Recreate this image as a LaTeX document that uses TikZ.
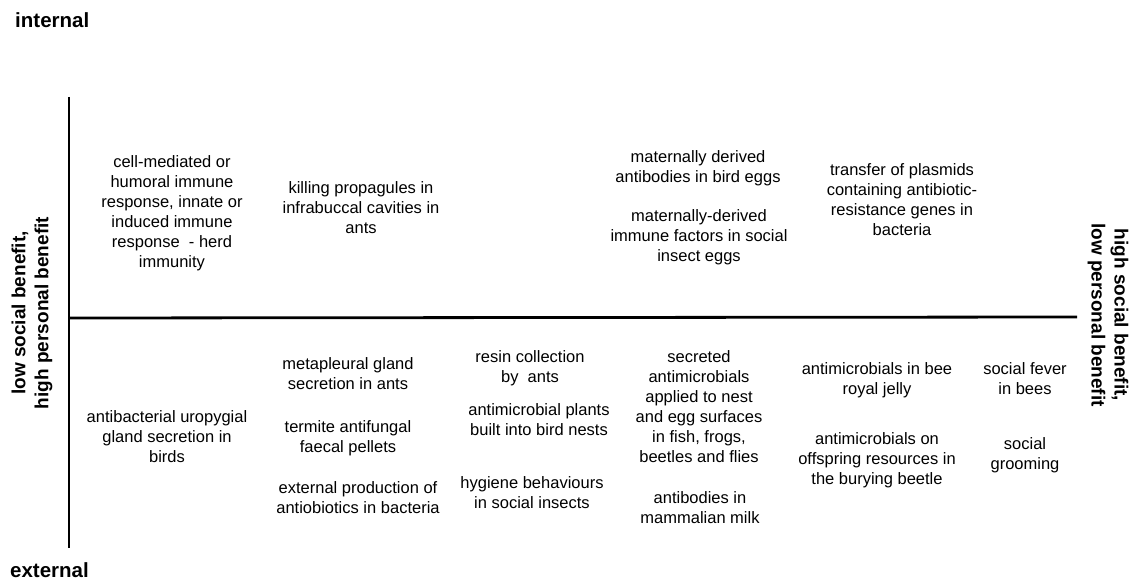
\documentclass[tikz,border=0pt]{standalone}
\usepackage{fontspec}
\setmainfont{Liberation Sans}
\begin{document}
\begin{tikzpicture}[x=1pt, y=-1pt,
				    item/.style={inner sep=0pt, align=center, text=black,
				    			  font=\fontsize{16.5}{20}\selectfont},
				    corner/.style={inner sep=0pt, anchor=west, text=black,
				    			  font=\bfseries\fontsize{20.5}{24}\selectfont},
				    side/.style={inner sep=0pt, align=center, text=black,
				    			  font=\bfseries\fontsize{19}{23}\selectfont},
				    axis/.style={line width=2.8pt}]
	\useasboundingbox (0, 0) rectangle (1129, 580);
	\coordinate (top) at (69, 97);
	\coordinate (bot) at (69, 548);
	\coordinate (left) at (69, 318);
	\coordinate (right) at (1077, 317);
	
	\node[corner] (int) at (15, 20) {internal};
	\node[corner] (ext) at (10, 570) {external};
	\node[side, rotate=90] (low) at (32, 313) {low social benefit,\\high personal benefit};
	\node[side, rotate=-90] (high) at (1108, 315) {high social benefit,\\low personal benefit};
	
	\node[item] (in1) at (172, 213) {cell-mediated or\\humoral immune\\response, innate or\\induced immune\\response\ \ - herd\\immunity};
	\node[item] (in2) at (361, 208) {killing propagules in\\infrabuccal cavities in\\ants};
	\node[item] (in3) at (698, 168) {maternally derived\\antibodies in bird eggs};
	\node[item] (in4) at (699, 237) {maternally-derived\\immune factors in social\\insect eggs};
	\node[item] (in5) at (902, 200) {transfer of plasmids\\containing antibiotic-\\resistance genes in\\bacteria};
	
	\node[item] (ex1) at (167, 437) {antibacterial uropygial\\gland secretion in\\birds};
	\node[item] (ex2) at (348, 374) {metapleural gland\\secretion in ants};
	\node[item] (ex3) at (348, 438) {termite antifungal\\faecal pellets};
	\node[item] (ex4) at (358, 498) {external production of\\antiobiotics in bacteria};
	\node[item] (ex5) at (530, 368) {resin collection\\by\ \ ants};
	\node[item] (ex6) at (539, 420) {antimicrobial plants\\built into bird nests};
	\node[item] (ex7) at (532, 493) {hygiene behaviours\\in social insects};
	\node[item] (ex8) at (699, 407) {secreted\\antimicrobials\\applied to nest\\and egg surfaces\\in fish, frogs,\\beetles and flies};
	\node[item] (ex9) at (700, 508) {antibodies in\\mammalian milk};
	\node[item] (ex10) at (877, 380) {antimicrobials in bee\\royal jelly};
	\node[item] (ex11) at (877, 460) {antimicrobials on\\offspring resources in\\the burying beetle};
	\node[item] (ex12) at (1025, 379) {social fever\\in bees};
	\node[item] (ex13) at (1025, 455) {social\\grooming};
	
	\draw[axis] (top) -- (bot);
	\draw[axis] (left) -- (right);
	
\end{tikzpicture}
\end{document}
